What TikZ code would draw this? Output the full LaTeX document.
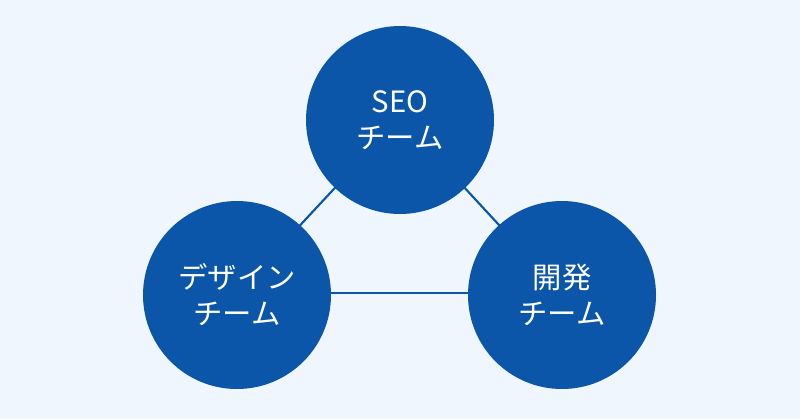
\documentclass[tikz,border=0pt]{standalone}
\usepackage{fontspec}
\newfontfamily\cjk{Noto Sans CJK JP}
\definecolor{bg}{HTML}{F0F6FE}
\definecolor{circ}{HTML}{0B56A8}
\begin{document}
\begin{tikzpicture}[x=0.75pt,y=-0.75pt,
  team/.style={circle,fill=circ,draw=none,minimum size=141pt,inner sep=0pt,
    text=white,font=\cjk\fontsize{22}{27}\selectfont,align=center},
  link/.style={draw=circ,line width=1.6pt}]
\fill[bg] (0,0) rectangle (800,419);
\useasboundingbox (0,0) rectangle (800,419);
\coordinate (ct) at (400,118);
\coordinate (cl) at (237,293);
\coordinate (cr) at (562,293);
\draw[link] (ct) -- (cl);
\draw[link] (ct) -- (cr);
\draw[link] (cl) -- (cr);
\node[team] (seo) at (400,120) {SEO\\チーム};
\node[team] (design) at (237,295) {デザイン\\チーム};
\node[team] (dev) at (562,295) {開発\\チーム};
\end{tikzpicture}
\end{document}
